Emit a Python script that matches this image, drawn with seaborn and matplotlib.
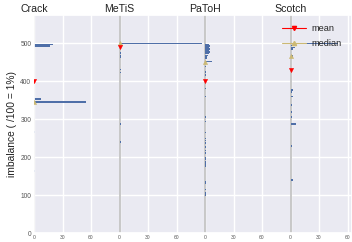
import numpy as np
import pandas as pd
import seaborn as sns
import matplotlib
matplotlib.use("Agg")
import matplotlib.pyplot as plt
from matplotlib.lines import Line2D
import matplotlib.transforms as mtransforms

partitioners = ["Crack", "MeTiS", "PaToH", "Scotch"]

crack_imb = [497, 492, 353, 345, 266, 163]
crack_cnt = [20, 17, 7, 55, 1, 1]

metis_imb = [499, 474, 468, 463, 459, 430, 422, 357, 344, 287, 240]
metis_cnt = [87, 1.5, 1.5, 1.5, 1, 1.5, 1.5, 1, 1, 1.5, 1.5]

patoh_imb = [497, 494, 491, 488, 485, 482, 479, 476, 472, 468, 463, 459, 451,
             438, 424, 416, 381, 359, 306, 293, 265, 249, 243, 237, 226, 217,
             211, 198, 194, 187, 182, 176, 134, 131, 114, 105, 100]
patoh_cnt = [4, 5, 5, 4, 5, 4, 3, 5, 4, 3, 2, 2, 7,
             1, 1, 1, 1, 1, 1, 1, 1, 1, 1, 1, 1, 1,
             1, 1, 1, 1, 1, 1, 1, 1, 1, 1, 1]

scotch_imb = [499, 493, 489, 485, 466, 450, 447, 403, 376, 371, 359, 337,
              319, 306, 287, 229, 185, 139]
scotch_cnt = [50, 7, 5, 3, 3, 1, 1, 1, 3, 2, 3, 2, 2, 2, 6, 2, 1, 3]

means = [401, 490, 401, 429]
medians = [345, 501, 450, 467]

x_tick_values = [0, 30, 60]

frames = []
for name, imb, cnt in [("Crack", crack_imb, crack_cnt), ("MeTiS", metis_imb, metis_cnt),
                       ("PaToH", patoh_imb, patoh_cnt), ("Scotch", scotch_imb, scotch_cnt)]:
    frames.append(pd.DataFrame({"partitioner": name, "imbalance": imb, "count": cnt}))
df = pd.concat(frames, ignore_index=True)

sns.set_theme(style="darkgrid")
plt.rcParams["font.family"] = ["Liberation Sans", "DejaVu Sans"]

fig = plt.figure(figsize=(3.52, 2.42), dpi=100)
ax = fig.add_axes([34 / 352, 1 - 233 / 242, 1 - 34 / 352, (233 - 15) / 242])

step = 90
blue = "#4f6fa8"
trans = mtransforms.blended_transform_factory(ax.transData, ax.transAxes)
for i, name in enumerate(partitioners):
    off = i * step
    ax.axvline(off, color="#c4c4c4", lw=1.3, zorder=1)
    sub = df[df["partitioner"] == name]
    ax.barh(sub["imbalance"].to_numpy(), sub["count"].to_numpy(), left=off, height=3.8,
            color=blue, edgecolor="none", zorder=2)
    ax.plot([off], [means[i]], marker="v", color="red", ms=3.0, mew=0.4, ls="none", zorder=4)
    ax.plot([off], [medians[i]], marker="^", color="y", ms=3.0, mew=0.4, ls="none", zorder=3)
    ax.text(off, 1.005, name, transform=trans, ha="center", va="bottom", fontsize=7.6,
            color="#222222")

ticks = [i * step + t for i in range(len(partitioners)) for t in x_tick_values]
ax.set_xticks(ticks)
ax.set_xticklabels([str(t) for i in range(len(partitioners)) for t in x_tick_values])
ax.set_xlim(0, (352 - 34) / 0.95)
ax.set_ylim(0, 574)
ax.set_yticks([0, 100, 200, 300, 400, 500])
ax.tick_params(axis="x", labelsize=3.6, pad=1.5, length=0, colors="#555555")
ax.tick_params(axis="y", labelsize=4.8, pad=2, length=0, colors="#555555")
ax.set_ylabel("imbalance ( /100 = 1%)", fontsize=7.4, color="#222222", labelpad=2.5)

handles = [Line2D([0], [0], color="red", marker="v", ms=3.0, lw=0.8),
           Line2D([0], [0], color="y", marker="^", ms=3.0, lw=0.8)]
leg = ax.legend(handles, ["mean", "median"], loc="upper right", frameon=False,
                fontsize=6.6, bbox_to_anchor=(0.985, 0.985), handlelength=2.6,
                borderaxespad=0.2, labelspacing=0.7, handletextpad=0.6)

fig.savefig("out.png", dpi=100)
